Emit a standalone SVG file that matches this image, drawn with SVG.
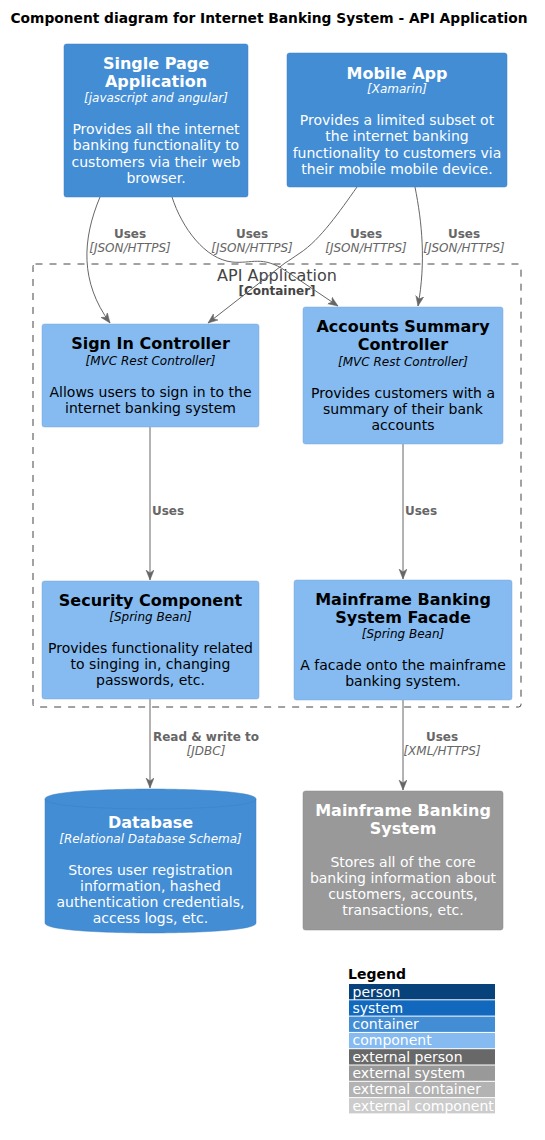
<svg xmlns="http://www.w3.org/2000/svg" width="545" height="1140" viewBox="0 0 545 1140">
<style>
text{font-family:"DejaVu Sans","Liberation Sans",sans-serif;text-anchor:middle}
.ttl{font-size:14px;font-weight:bold;fill:#000}
.cont{fill:#438DD5;stroke:#3C7FC0;stroke-width:0.5}
.comp{fill:#85BBF0;stroke:#78A8D8;stroke-width:0.5}
.ext{fill:#999999;stroke:#8A8A8A;stroke-width:0.5}
.nt{font-size:16px;font-weight:bold}
.tech{font-size:12px;font-style:italic}
.desc{font-size:14px}
.w{fill:#FFFFFF}
.b{fill:#000000}
.edge{fill:none;stroke:#666666;stroke-width:1}
.el{font-size:12px;font-weight:bold;fill:#666666}
.et{font-size:12px;font-style:italic;fill:#666666}
.bnd{fill:none;stroke:#444444;stroke-width:1;stroke-dasharray:7,7}
.lg{font-size:14px;fill:#FFFFFF;text-anchor:start}
</style>
<defs>
<marker id="arr" markerUnits="userSpaceOnUse" markerWidth="11" markerHeight="9" refX="10" refY="4" orient="auto">
<path d="M0,0 L10,4 L0,8 L3,4 Z" fill="#666666" stroke="#666666" stroke-width="0.5"/>
</marker>
</defs>
<rect width="545" height="1140" fill="#FFFFFF"/>
<text class="ttl" x="269" y="23" textLength="517" lengthAdjust="spacingAndGlyphs">Component diagram for Internet Banking System - API Application</text>

<g id="api-application">
<rect class="bnd" x="33" y="264" width="488" height="443" rx="2.5"/>
<text x="277" y="281" style="font-size:16px;fill:#444444">API Application</text>
<text x="277" y="295" style="font-size:12px;font-weight:bold;fill:#444444">[Container]</text>
</g>

<g id="connectors">
<path class="edge" d="M100,197 C82,240 80,282 110,323" marker-end="url(#arr)"/>
<path class="edge" d="M172,197 C182,228 205,259 232,262 C252,264 262,255 286,271 L338,306" marker-end="url(#arr)"/>
<path class="edge" d="M357,187 C340,211 320,240 300,253 C294,257 290,260 285,263 L208,323" marker-end="url(#arr)"/>
<path class="edge" d="M415,187 C422,222 426,262 418,306" marker-end="url(#arr)"/>
<path class="edge" d="M150,427 L150,580" marker-end="url(#arr)"/>
<path class="edge" d="M403,444 L403,579" marker-end="url(#arr)"/>
<path class="edge" d="M150,699 L150,788" marker-end="url(#arr)"/>
<path class="edge" d="M403,700 L403,790" marker-end="url(#arr)"/>
<text class="el" x="130" y="238">Uses</text>
<text class="et" x="130" y="252">[JSON/HTTPS]</text>
<text class="el" x="252" y="238">Uses</text>
<text class="et" x="252" y="252">[JSON/HTTPS]</text>
<text class="el" x="366" y="238">Uses</text>
<text class="et" x="366" y="252">[JSON/HTTPS]</text>
<text class="el" x="464" y="238">Uses</text>
<text class="et" x="464" y="252">[JSON/HTTPS]</text>
<text class="el" x="168" y="515">Uses</text>
<text class="el" x="421" y="515">Uses</text>
<text class="el" x="206" y="741">Read &amp; write to</text>
<text class="et" x="206" y="755">[JDBC]</text>
<text class="el" x="442" y="741">Uses</text>
<text class="et" x="442" y="755">[XML/HTTPS]</text>
</g>

<g id="spa">
<rect class="cont" x="64" y="44" width="184" height="153" rx="2.5"/>
<text class="nt w" x="156" y="69">Single Page</text>
<text class="nt w" x="156" y="87">Application</text>
<text class="tech w" x="156" y="102">[javascript and angular]</text>
<text class="desc w" x="156" y="134">Provides all the internet</text>
<text class="desc w" x="156" y="150.3">banking functionality to</text>
<text class="desc w" x="156" y="166.6">customers via their web</text>
<text class="desc w" x="156" y="183">browser.</text>
</g>

<g id="mobile-app">
<rect class="cont" x="287" y="53" width="220" height="134" rx="2.5"/>
<text class="nt w" x="397" y="79">Mobile App</text>
<text class="tech w" x="397" y="93">[Xamarin]</text>
<text class="desc w" x="397" y="125">Provides a limited subset ot</text>
<text class="desc w" x="397" y="141.3">the internet banking</text>
<text class="desc w" x="397" y="157.6">functionality to customers via</text>
<text class="desc w" x="397" y="174">their mobile mobile device.</text>
</g>

<g id="sign-in-controller">
<rect class="comp" x="42" y="324" width="217" height="103" rx="2.5"/>
<text class="nt b" x="150.5" y="349">Sign In Controller</text>
<text class="tech b" x="150.5" y="365">[MVC Rest Controller]</text>
<text class="desc b" x="150.5" y="397">Allows users to sign in to the</text>
<text class="desc b" x="150.5" y="413">internet banking system</text>
</g>

<g id="accounts-summary-controller">
<rect class="comp" x="303" y="307" width="200" height="137" rx="2.5"/>
<text class="nt b" x="403" y="332">Accounts Summary</text>
<text class="nt b" x="403" y="350">Controller</text>
<text class="tech b" x="403" y="366">[MVC Rest Controller]</text>
<text class="desc b" x="403" y="398">Provides customers with a</text>
<text class="desc b" x="403" y="414">summary of their bank</text>
<text class="desc b" x="403" y="430">accounts</text>
</g>

<g id="security-component">
<rect class="comp" x="42" y="581" width="217" height="118" rx="2.5"/>
<text class="nt b" x="150.5" y="606">Security Component</text>
<text class="tech b" x="150.5" y="621">[Spring Bean]</text>
<text class="desc b" x="150.5" y="653">Provides functionality related</text>
<text class="desc b" x="150.5" y="669">to singing in, changing</text>
<text class="desc b" x="150.5" y="685">passwords, etc.</text>
</g>

<g id="mainframe-banking-system-facade">
<rect class="comp" x="294" y="580" width="218" height="120" rx="2.5"/>
<text class="nt b" x="403" y="605">Mainframe Banking</text>
<text class="nt b" x="403" y="623">System Facade</text>
<text class="tech b" x="403" y="638">[Spring Bean]</text>
<text class="desc b" x="403" y="670">A facade onto the mainframe</text>
<text class="desc b" x="403" y="686">banking system.</text>
</g>

<g id="database">
<path class="cont" d="M45,799 C45,789 150.5,789 150.5,789 C150.5,789 256,789 256,799 L256,923 C256,933 150.5,933 150.5,933 C150.5,933 45,933 45,923 Z"/>
<path d="M45,799 C45,809 150.5,809 150.5,809 C150.5,809 256,809 256,799" fill="none" stroke="#3C7FC0" stroke-width="0.5"/>
<text class="nt w" x="150.5" y="828">Database</text>
<text class="tech w" x="150.5" y="843">[Relational Database Schema]</text>
<text class="desc w" x="150.5" y="875">Stores user registration</text>
<text class="desc w" x="150.5" y="891">information, hashed</text>
<text class="desc w" x="150.5" y="907">authentication credentials,</text>
<text class="desc w" x="150.5" y="923">access logs, etc.</text>
</g>

<g id="mainframe-banking-system">
<rect class="ext" x="303" y="791" width="200" height="139" rx="2.5"/>
<text class="nt w" x="403" y="816">Mainframe Banking</text>
<text class="nt w" x="403" y="834">System</text>
<text class="desc w" x="403" y="867">Stores all of the core</text>
<text class="desc w" x="403" y="883">banking information about</text>
<text class="desc w" x="403" y="899">customers, accounts,</text>
<text class="desc w" x="403" y="915">transactions, etc.</text>
</g>

<g id="legend">
<text x="348" y="979" style="font-size:14px;font-weight:bold;fill:#000;text-anchor:start">Legend</text>
<rect x="349" y="984" width="146" height="15.3" fill="#08427B"/>
<rect x="349" y="1000.3" width="146" height="15.3" fill="#1168BD"/>
<rect x="349" y="1016.6" width="146" height="15.3" fill="#438DD5"/>
<rect x="349" y="1032.9" width="146" height="15.3" fill="#85BBF0"/>
<rect x="349" y="1049.2" width="146" height="15.3" fill="#686868"/>
<rect x="349" y="1065.5" width="146" height="15.3" fill="#999999"/>
<rect x="349" y="1081.8" width="146" height="15.3" fill="#B3B3B3"/>
<rect x="349" y="1098.1" width="146" height="15.3" fill="#CCCCCC"/>
<text class="lg" x="352.5" y="996.5">person</text>
<text class="lg" x="352.5" y="1012.8">system</text>
<text class="lg" x="352.5" y="1029.1">container</text>
<text class="lg" x="352.5" y="1045.4">component</text>
<text class="lg" x="352.5" y="1061.7">external person</text>
<text class="lg" x="352.5" y="1078">external system</text>
<text class="lg" x="352.5" y="1094.3">external container</text>
<text class="lg" x="352.5" y="1110.6">external component</text>
</g>
</svg>
